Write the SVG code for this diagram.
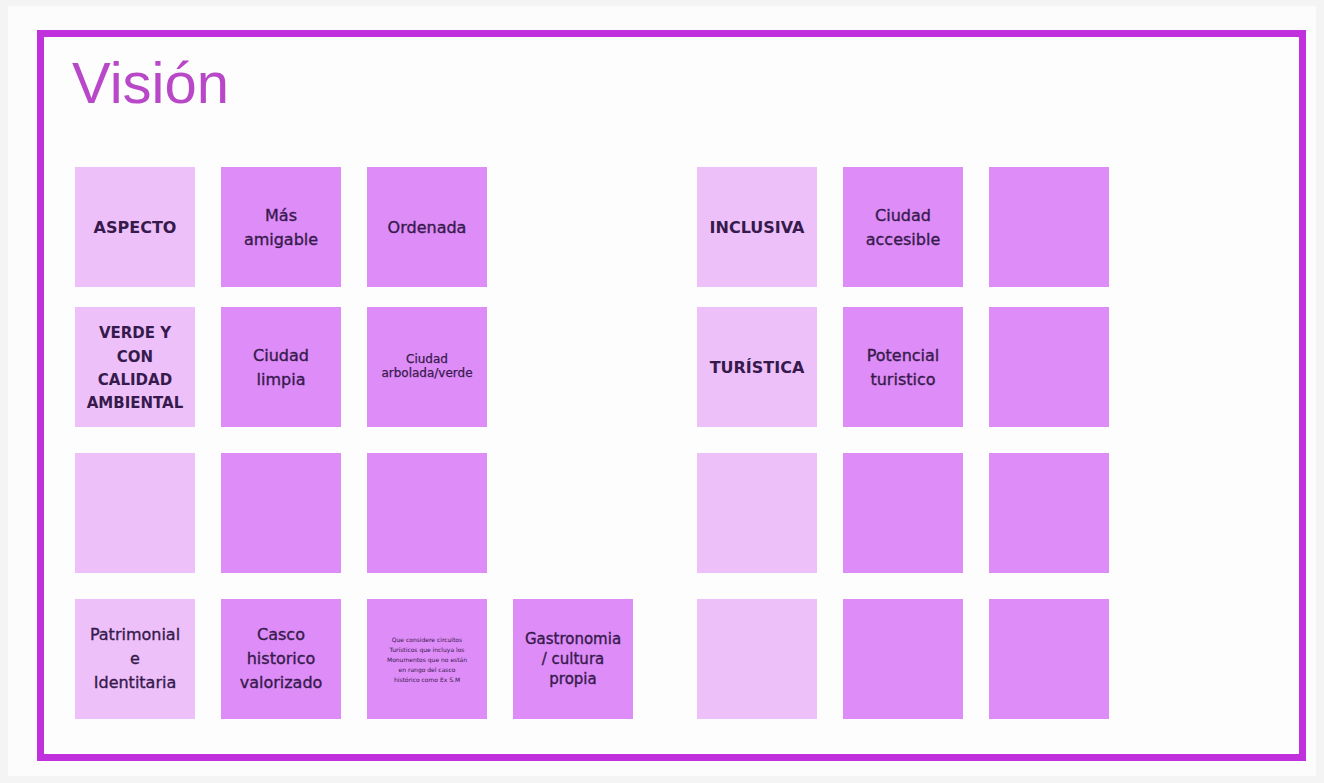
<svg xmlns="http://www.w3.org/2000/svg" width="1324" height="783" viewBox="0 0 1324 783">
<style>
.light{fill:#eec0fa}
.dark{fill:#de8cf8}
text{font-family:"DejaVu Sans","Liberation Sans",sans-serif;fill:#361a4c;text-anchor:middle}
.cap{font-weight:bold;font-size:16px}
.cap15{font-weight:bold;font-size:15px}
.n{font-size:16px;stroke:#361a4c;stroke-width:0.35}
.s15{font-size:15px;stroke:#361a4c;stroke-width:0.35}
.s12{font-size:12px;stroke:#361a4c;stroke-width:0.25}
.s6{font-size:6px}
</style>
<rect x="0" y="0" width="1324" height="783" fill="#f4f4f4"/>
<rect x="8" y="6" width="1308" height="770" fill="#fcfcfc"/>
<g id="frame">
<rect x="40.5" y="33.5" width="1262" height="724" fill="#fdfdfd" stroke="#c030dc" stroke-width="7"/>
<text x="72" y="103" style="font-family:'Liberation Sans',sans-serif;font-size:58px;fill:#b848c8;text-anchor:start">Visión</text>
</g>
<g id="connectors"/>
<g id="n-aspecto"><rect class="light" x="75" y="167" width="120" height="120"/><text class="cap" x="135" y="233">ASPECTO</text></g>
<g id="n-amigable"><rect class="dark" x="221" y="167" width="120" height="120"/><text class="n" x="281" y="221">Más</text><text class="n" x="281" y="245">amigable</text></g>
<g id="n-ordenada"><rect class="dark" x="367" y="167" width="120" height="120"/><text class="n" x="427" y="233">Ordenada</text></g>
<g id="n-inclusiva"><rect class="light" x="697" y="167" width="120" height="120"/><text class="cap" x="757" y="233">INCLUSIVA</text></g>
<g id="n-accesible"><rect class="dark" x="843" y="167" width="120" height="120"/><text class="n" x="903" y="221">Ciudad</text><text class="n" x="903" y="245">accesible</text></g>
<g id="n-r1c7"><rect class="dark" x="989" y="167" width="120" height="120"/></g>

<g id="n-verde"><rect class="light" x="75" y="307" width="120" height="120"/><text class="cap15" x="135" y="338">VERDE Y</text><text class="cap15" x="135" y="362">CON</text><text class="cap15" x="135" y="385">CALIDAD</text><text class="cap15" x="135" y="408">AMBIENTAL</text></g>
<g id="n-limpia"><rect class="dark" x="221" y="307" width="120" height="120"/><text class="n" x="281" y="361">Ciudad</text><text class="n" x="281" y="385">limpia</text></g>
<g id="n-arbolada"><rect class="dark" x="367" y="307" width="120" height="120"/><text class="s12" x="427" y="363">Ciudad</text><text class="s12" x="427" y="377">arbolada/verde</text></g>
<g id="n-turistica"><rect class="light" x="697" y="307" width="120" height="120"/><text class="cap" x="757" y="373">TURÍSTICA</text></g>
<g id="n-potencial"><rect class="dark" x="843" y="307" width="120" height="120"/><text class="n" x="903" y="361">Potencial</text><text class="n" x="903" y="385">turistico</text></g>
<g id="n-r2c7"><rect class="dark" x="989" y="307" width="120" height="120"/></g>

<g id="n-r3c1"><rect class="light" x="75" y="453" width="120" height="120"/></g>
<g id="n-r3c2"><rect class="dark" x="221" y="453" width="120" height="120"/></g>
<g id="n-r3c3"><rect class="dark" x="367" y="453" width="120" height="120"/></g>
<g id="n-r3c5"><rect class="light" x="697" y="453" width="120" height="120"/></g>
<g id="n-r3c6"><rect class="dark" x="843" y="453" width="120" height="120"/></g>
<g id="n-r3c7"><rect class="dark" x="989" y="453" width="120" height="120"/></g>

<g id="n-patrimonial"><rect class="light" x="75" y="599" width="120" height="120"/><text class="n" x="135" y="640">Patrimonial</text><text class="n" x="135" y="664">e</text><text class="n" x="135" y="688">Identitaria</text></g>
<g id="n-casco"><rect class="dark" x="221" y="599" width="120" height="120"/><text class="n" x="281" y="640">Casco</text><text class="n" x="281" y="664">historico</text><text class="n" x="281" y="688">valorizado</text></g>
<g id="n-circuitos"><rect class="dark" x="367" y="599" width="120" height="120"/><text class="s6" x="427" y="642">Que considere circuitos</text><text class="s6" x="427" y="652">Turísticos que incluya los</text><text class="s6" x="427" y="662">Monumentos que no están</text><text class="s6" x="427" y="672">en rango del casco</text><text class="s6" x="427" y="682">histórico como Ex S.M</text></g>
<g id="n-gastronomia"><rect class="dark" x="513" y="599" width="120" height="120"/><text class="s15" x="573" y="644">Gastronomia</text><text class="s15" x="573" y="664">/ cultura</text><text class="s15" x="573" y="684">propia</text></g>
<g id="n-r4c5"><rect class="light" x="697" y="599" width="120" height="120"/></g>
<g id="n-r4c6"><rect class="dark" x="843" y="599" width="120" height="120"/></g>
<g id="n-r4c7"><rect class="dark" x="989" y="599" width="120" height="120"/></g>
</svg>
